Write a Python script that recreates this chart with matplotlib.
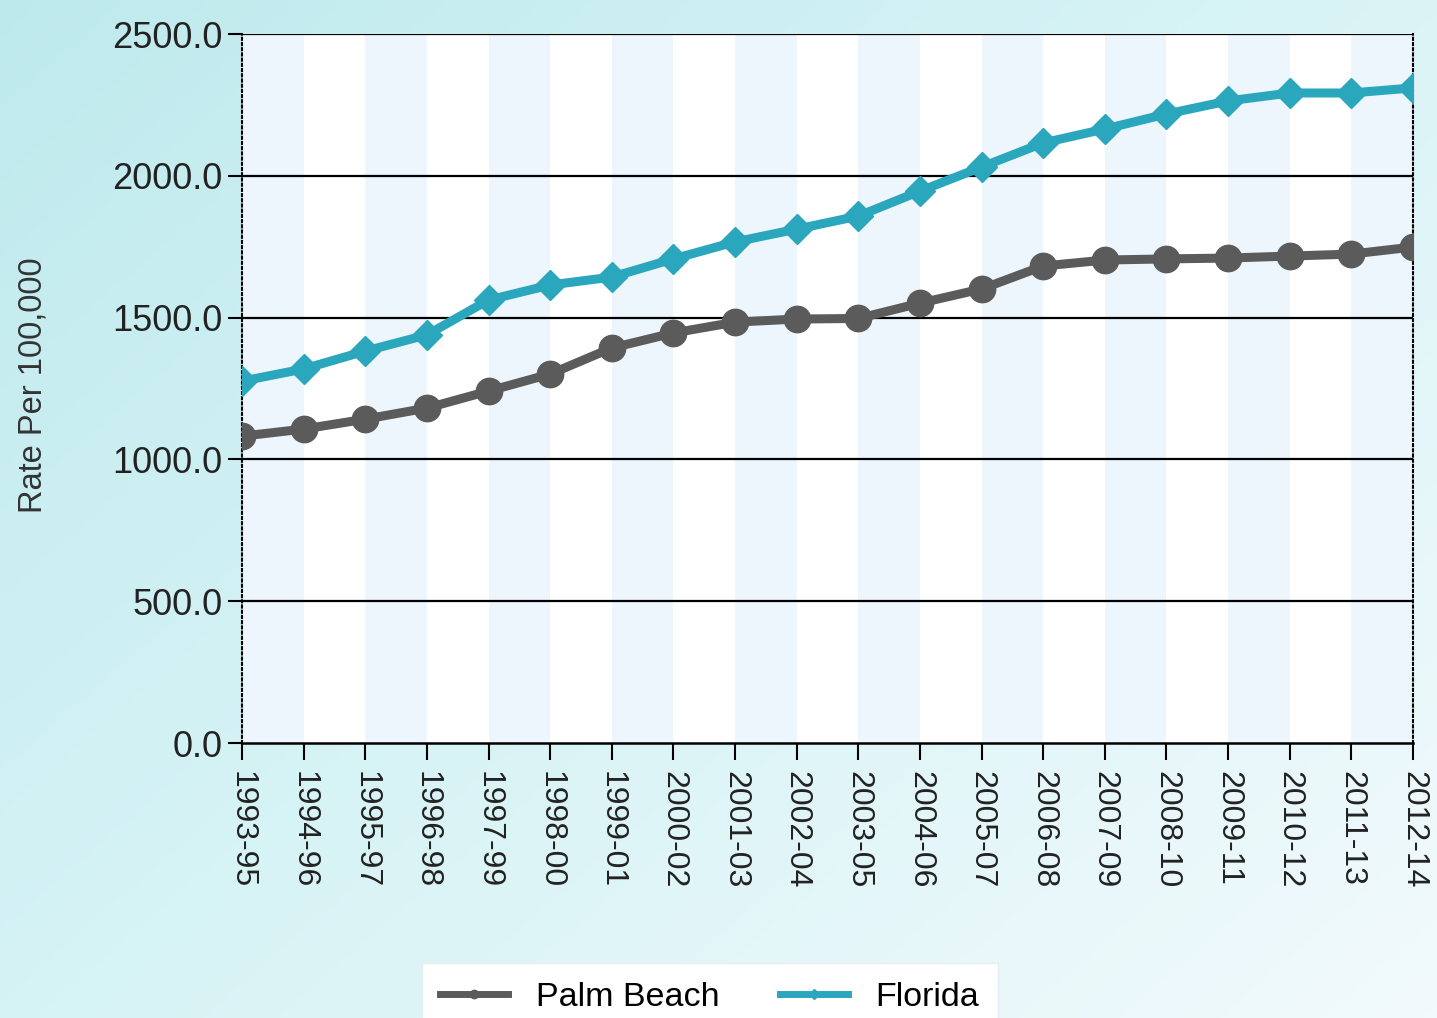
import numpy as np
import matplotlib.pyplot as plt
from matplotlib.lines import Line2D
from matplotlib.colors import LinearSegmentedColormap

plt.rcParams['font.family'] = ['Liberation Sans', 'DejaVu Sans']

# Data
periods = ['1993-95', '1994-96', '1995-97', '1996-98', '1997-99', '1998-00',
           '1999-01', '2000-02', '2001-03', '2002-04', '2003-05', '2004-06',
           '2005-07', '2006-08', '2007-09', '2008-10', '2009-11', '2010-12',
           '2011-13', '2012-14']
palm_beach = [1082, 1107, 1142, 1181, 1241, 1301, 1393, 1446, 1484, 1495,
              1497, 1551, 1601, 1682, 1703, 1707, 1710, 1717, 1724, 1749]
florida = [1276, 1319, 1382, 1439, 1562, 1615, 1643, 1707, 1767, 1812,
           1858, 1946, 2031, 2116, 2165, 2218, 2264, 2292, 2292, 2310]
y_ticks = [0, 500, 1000, 1500, 2000, 2500]

gray = '#5b5b5b'
teal = '#2aa7bd'

fig = plt.figure(figsize=(14.37, 10.18), dpi=100)

# gradient background (cyan at top-left fading to near white at bottom-right)
bg = fig.add_axes([0, 0, 1, 1])
gx, gy = np.meshgrid(np.linspace(0, 1, 300), np.linspace(0, 1, 300))
t = np.clip(0.55 * gx + 0.45 * gy, 0, 1) ** 0.9
cmap = LinearSegmentedColormap.from_list('bg', ['#bde9ed', '#d6f3f5', '#f2fafd'])
bg.imshow(t, cmap=cmap, aspect='auto', extent=[0, 1, 0, 1], origin='upper')
bg.set_axis_off()

ax = fig.add_axes([0.1684, 0.2701, 0.8149, 0.6965])
ax.set_facecolor('white')
x = np.arange(len(periods))

# alternating vertical bands
for i in range(0, len(periods) - 1, 2):
    ax.axvspan(i, i + 1, color='#edf5fd', lw=0, zorder=0)

for yv in y_ticks[1:]:
    ax.axhline(yv, color='black', lw=1.6, zorder=1)

ax.plot(x, palm_beach, color=gray, lw=6.5, marker='o', ms=19, zorder=3)
ax.plot(x, florida, color=teal, lw=6.5, marker='D', ms=15, zorder=3)

ax.set_xlim(0, len(periods) - 1)
ax.set_ylim(0, 2500)
ax.set_yticks(y_ticks)
ax.set_yticklabels([f'{v:.1f}' for v in y_ticks], fontsize=26, color='#222222')
ax.set_xticks(x)
ax.set_xticklabels(periods, rotation=270, fontsize=23, color='#222222')
ax.tick_params(axis='y', length=10, width=1.5, pad=4)
ax.tick_params(axis='x', length=12, width=1.5, pad=8)

for side in ['left', 'right']:
    ax.spines[side].set_linestyle((0, (1, 1.5)))
    ax.spines[side].set_linewidth(1.5)
ax.spines['top'].set_visible(False)
ax.spines['bottom'].set_linewidth(1.8)

ax.set_ylabel('Rate Per 100,000', fontsize=23.5, color='#333333')
ax.yaxis.set_label_coords(-0.165, 0.505)

handles = [Line2D([], [], color=gray, lw=5, marker='o', ms=6),
           Line2D([], [], color=teal, lw=5, marker='D', ms=5)]
leg = fig.legend(handles, ['Palm Beach', 'Florida'], loc='upper center',
                 bbox_to_anchor=(0.494, 0.054), ncol=2, fontsize=24.5,
                 frameon=True, fancybox=False, handlelength=2.0,
                 columnspacing=1.8, borderpad=0.55, borderaxespad=0)
leg.get_frame().set_edgecolor('#e6eef2')
leg.get_frame().set_facecolor('white')
leg.get_frame().set_alpha(1)

fig.savefig('out.png', dpi=100)
